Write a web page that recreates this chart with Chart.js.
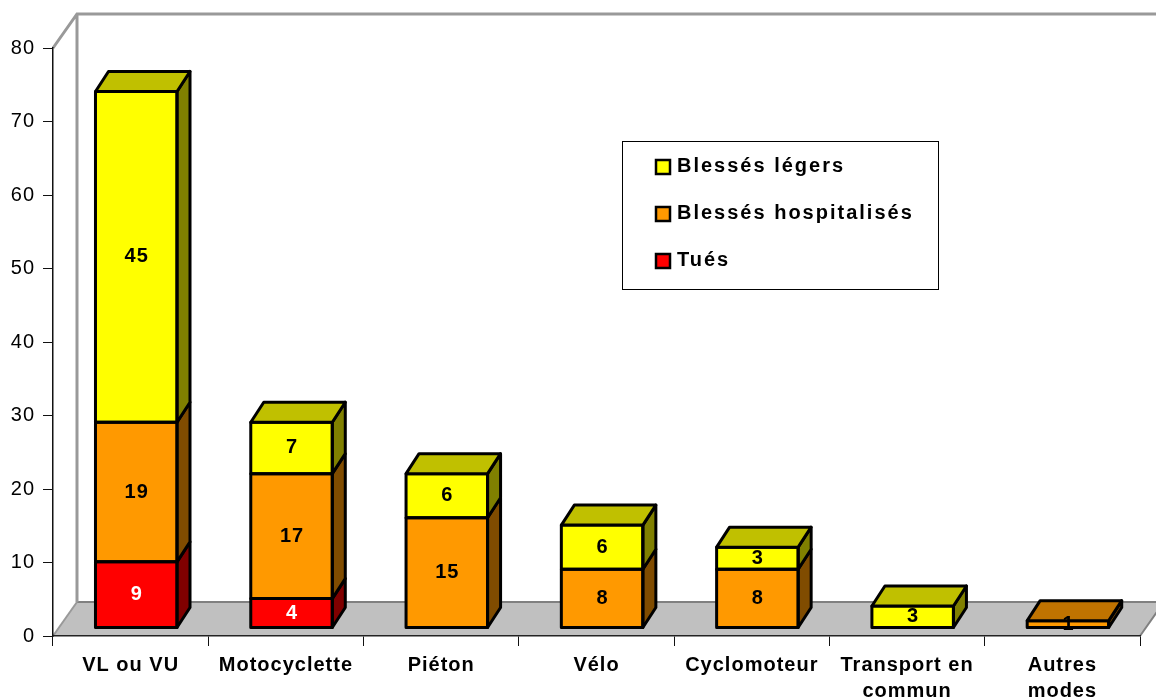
<!DOCTYPE html>
<html><head><meta charset="utf-8">
<script src="https://cdn.jsdelivr.net/npm/chart.js@4.4.1/dist/chart.umd.min.js"></script>
<style>html,body{margin:0;padding:0;background:#fff;overflow:hidden;} #wrap{width:1156px;height:700px;}</style>
</head><body><div id="wrap"><canvas id="c" width="1156" height="700"></canvas></div>
<script>
// ---- data ----
const categories = ['VL ou VU', 'Motocyclette', 'Piéton', 'Vélo', 'Cyclomoteur', ['Transport en', 'commun'], ['Autres', 'modes']];
const tues = [9, 4, null, null, null, null, null];
const blessesHospitalises = [19, 17, 15, 8, 8, null, 1];
const blessesLegers = [45, 7, 6, 6, 3, 3, null];
const yTicks = [0, 10, 20, 30, 40, 50, 60, 70, 80];
const seriesNames = ['Tués', 'Blessés hospitalisés', 'Blessés légers'];

// ---- style ----
const FONT = "'Liberation Sans', Arial, sans-serif";
const WALL = {dx: 24, dy: -34};
const SHIFT = {dx: 5.6, dy: -8};
const BAR_D = {dx: 13, dy: -20};
const shades = [
  {front: '#FF0000', side: '#800000', top: '#C00000', label: '#FFFFFF'},
  {front: '#FF9900', side: '#804C00', top: '#C07300', label: '#000000'},
  {front: '#FFFF00', side: '#808000', top: '#C0C000', label: '#000000'}
];

function poly(ctx, pts, fill) {
  ctx.beginPath();
  ctx.moveTo(pts[0][0], pts[0][1]);
  for (let i = 1; i < pts.length; i++) ctx.lineTo(pts[i][0], pts[i][1]);
  ctx.closePath();
  if (fill) { ctx.fillStyle = fill; ctx.fill(); }
  ctx.stroke();
}

const threeD = {
  id: 'threeD',
  beforeDraw(chart) {
    const {ctx, chartArea: a, scales: {y}} = chart;
    const L = a.left, R = a.right, B = a.bottom, T = y.getPixelForValue(yTicks[yTicks.length - 1]);
    ctx.save();
    // floor
    ctx.beginPath();
    ctx.moveTo(L, B); ctx.lineTo(L + WALL.dx, B + WALL.dy);
    ctx.lineTo(R + WALL.dx, B + WALL.dy); ctx.lineTo(R, B); ctx.closePath();
    ctx.fillStyle = '#C0C0C0'; ctx.fill();
    ctx.strokeStyle = '#808080'; ctx.lineWidth = 2;
    ctx.beginPath();
    ctx.moveTo(L + WALL.dx, B + WALL.dy); ctx.lineTo(R + WALL.dx, B + WALL.dy); ctx.lineTo(R, B);
    ctx.stroke();
    // walls
    ctx.strokeStyle = '#999999'; ctx.lineWidth = 3;
    ctx.beginPath();
    ctx.moveTo(L, T); ctx.lineTo(L + WALL.dx, T + WALL.dy); ctx.lineTo(R + WALL.dx + 40, T + WALL.dy);
    ctx.moveTo(L + WALL.dx, T + WALL.dy); ctx.lineTo(L + WALL.dx, B + WALL.dy);
    ctx.stroke();
    ctx.lineWidth = 2;
    ctx.beginPath();
    ctx.moveTo(L, B); ctx.lineTo(L + WALL.dx, B + WALL.dy);
    ctx.stroke();
    ctx.restore();
    ctx.letterSpacing = '1px';
  },
  beforeDatasetsDraw(chart) {
    chart.ctx.save();
    chart.ctx.translate(SHIFT.dx, SHIFT.dy);
  },
  afterDatasetsDraw(chart) {
    const ctx = chart.ctx;
    const ds = chart.data.datasets;
    const n = chart.data.labels.length;
    const topIdx = [];
    for (let j = 0; j < n; j++) {
      topIdx[j] = -1;
      ds.forEach((d, i) => { if (d.data[j] != null) topIdx[j] = i; });
    }
    ctx.lineWidth = 3;
    ctx.lineJoin = 'round';
    ctx.strokeStyle = '#000';
    const labels = [];
    ds.forEach((d, i) => {
      const meta = chart.getDatasetMeta(i);
      meta.data.forEach((el, j) => {
        if (d.data[j] == null) return;
        const p = el.getProps(['x', 'y', 'base', 'width'], true);
        const l = p.x - p.width / 2, r = p.x + p.width / 2, t = Math.min(p.y, p.base), b = Math.max(p.y, p.base);
        poly(ctx, [[r, t], [r + BAR_D.dx, t + BAR_D.dy], [r + BAR_D.dx, b + BAR_D.dy], [r, b]], shades[i].side);
        ctx.beginPath(); ctx.rect(l, t, r - l, b - t); ctx.stroke();
        if (topIdx[j] === i) {
          poly(ctx, [[l, t], [l + BAR_D.dx, t + BAR_D.dy], [r + BAR_D.dx, t + BAR_D.dy], [r, t]], shades[i].top);
        }
        labels.push({x: p.x, y: (t + b) / 2, text: String(d.data[j]), color: shades[i].label});
      });
    });
    ctx.font = 'bold 20px ' + FONT;
    ctx.textAlign = 'center';
    ctx.textBaseline = 'middle';
    labels.forEach(lb => { ctx.fillStyle = lb.color; ctx.fillText(lb.text, lb.x + 0.5, lb.y); });
    ctx.restore();
  },
  afterDraw(chart) {
    const ctx = chart.ctx;
    ctx.save();
    ctx.fillStyle = '#fff';
    ctx.fillRect(622, 141, 316, 148);
    ctx.strokeStyle = '#000'; ctx.lineWidth = 1;
    ctx.strokeRect(622.5, 141.5, 316, 148);
    ctx.font = 'bold 20px ' + FONT;
    ctx.letterSpacing = '2px';
    ctx.textAlign = 'left';
    ctx.textBaseline = 'middle';
    const ds = chart.data.datasets;
    for (let k = 0; k < ds.length; k++) {
      const i = ds.length - 1 - k;
      const cy = 166 + k * 47;
      ctx.fillStyle = shades[i].front;
      ctx.fillRect(656, cy - 6, 14, 14);
      ctx.lineWidth = 2.5; ctx.strokeStyle = '#000';
      ctx.strokeRect(656, cy - 6, 14, 14);
      ctx.fillStyle = '#000';
      ctx.fillText(ds[i].label, 677, cy);
    }
    ctx.restore();
  }
};

new Chart(document.getElementById('c'), {
  type: 'bar',
  data: {
    labels: categories,
    datasets: [
      {label: seriesNames[0], data: tues, backgroundColor: shades[0].front},
      {label: seriesNames[1], data: blessesHospitalises, backgroundColor: shades[1].front},
      {label: seriesNames[2], data: blessesLegers, backgroundColor: shades[2].front}
    ]
  },
  options: {
    responsive: false,
    animation: false,
    devicePixelRatio: 1,
    layout: {padding: {top: 48, right: 16, left: 0, bottom: 0}},
    datasets: {bar: {categoryPercentage: 1, barPercentage: 0.525, borderWidth: 0, clip: false}},
    plugins: {legend: {display: false}, tooltip: {enabled: false}},
    scales: {
      x: {
        stacked: true,
        grid: {display: true, drawOnChartArea: false, drawTicks: true, tickLength: 10, color: '#111', lineWidth: 1, offset: true},
        border: {display: true, color: '#222', width: 1.5},
        ticks: {color: '#000', font: {family: FONT, size: 20, weight: 'bold', lineHeight: 1.3}, padding: 6, maxRotation: 0, autoSkip: false},
        afterFit(s) { s.height = 64; }
      },
      y: {
        stacked: true,
        min: yTicks[0], max: yTicks[yTicks.length - 1],
        afterBuildTicks(s) { s.ticks = yTicks.map(v => ({value: v})); },
        ticks: {color: '#000', font: {family: FONT, size: 20}, padding: 8},
        grid: {drawOnChartArea: false, tickLength: 10, color: '#111'},
        border: {display: true, color: '#111', width: 1.5},
        afterFit(s) { s.width = 53; }
      }
    }
  },
  plugins: [threeD]
});
</script>
</body></html>
